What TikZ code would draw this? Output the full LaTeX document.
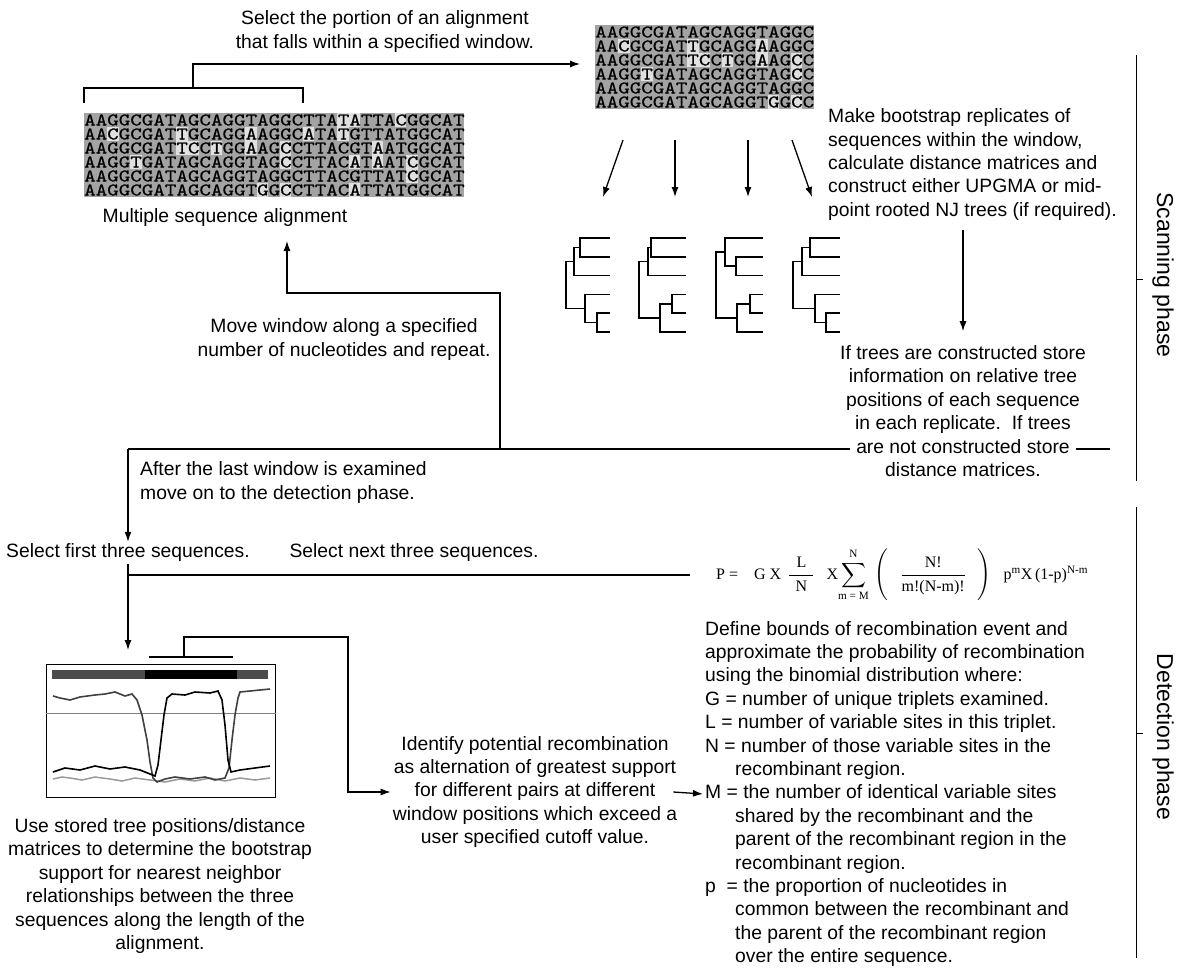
\documentclass[tikz,border=0pt]{standalone}
\usepackage{fontspec}
\usepackage{amsmath}
\setmainfont{Liberation Sans}
\newfontfamily\formfont{Liberation Serif}
\newfontfamily\seqfont[FakeStretch=1.22,FakeBold=0.5]{lmmono10-regular.otf}
\usetikzlibrary{arrows.meta}
\colorlet{seqbg}{black!36}
\colorlet{seqlight}{black!12}
\tikzset{
  txt/.style={font=\fontsize{19.3}{23.4}\selectfont, inner sep=2pt},
  arr/.style={-{Latex[length=10pt,width=7pt]}},
  link/.style={line width=1.3pt},
  branch/.style={line width=1.6pt},
  seqrow/.style={font={\seqfont\fontsize{18}{14}\selectfont}, anchor=base west, inner sep=0pt},
  phase/.style={font=\fontsize{23}{27}\selectfont, rotate=-90},
}
\begin{document}
\begin{tikzpicture}[x=1pt,y=-1pt]
\useasboundingbox (0,0) rectangle (1179,969);

% multiple sequence alignment
\fill[seqbg] (84,113) rectangle (463.5,197);
\foreach \c/\r in {3/2,9/2,15/2,20/2,9/3,10/3,12/3,15/3,18/3,26/3,5/4,18/4,24/4,26/4,29/4,29/5,16/6,18/6,24/6,23/1,23/2,28/1,24/1}
  \fill[seqlight] ({84+(\c-1)*11.5},{113+(\r-1)*14}) rectangle +(11.5,14);
\foreach \s [count=\r] in {AAGGCGATAGCAGGTAGGCTTATATTACGGCAT,AACGCGATTGCAGGAAGGCATATGTTATGGCAT,AAGGCGATTCCTGGAAGCCTTACGTAATGGCAT,AAGGTGATAGCAGGTAGCCTTACATAATCGCAT,AAGGCGATAGCAGGTAGGCTTACGTTATCGCAT,AAGGCGATAGCAGGTGGCCTTACATTATGGCAT}
  \node[seqrow] (msa\r) at (84,{125.5+(\r-1)*14}) {\s};
\node[txt] (msalabel) at (225,218) {Multiple sequence alignment};

% window
\fill[seqbg] (595,25) rectangle (813.5,109);
\foreach \c/\r in {3/2,9/2,15/2,9/3,10/3,12/3,15/3,18/3,5/4,18/4,16/6,18/6}
  \fill[seqlight] ({595+(\c-1)*11.5},{25+(\r-1)*14}) rectangle +(11.5,14);
\foreach \s [count=\r] in {AAGGCGATAGCAGGTAGGC,AACGCGATTGCAGGAAGGC,AAGGCGATTCCTGGAAGCC,AAGGTGATAGCAGGTAGCC,AAGGCGATAGCAGGTAGGC,AAGGCGATAGCAGGTGGCC}
  \node[seqrow] (win\r) at (595,{37.5+(\r-1)*14}) {\s};

\node[txt, align=center] (seltxt) at (385,31.5) {Select the portion of an alignment\\that falls within a specified window.};
\draw[link] (84,103) |- (303,88) -- (303,103);
\coordinate (brkM) at (193,88);
\coordinate (winIn) at (580,64);
\draw[link,arr] (brkM) |- (winIn);

% bootstrap arrows
\foreach \a/\b [count=\i] in {623/603,675/675,748/748,792/812}{
  \coordinate (bt\i) at (\a,140);
  \coordinate (bh\i) at (\b,197);
  \draw[link,arr] (bt\i) -- (bh\i);
}

% trees
\begin{scope}[shift={(566,238)}, branch]
  \draw (44,0) -| (14,18.8) -- (44,18.8);
  \draw (14,9.4) -| (8,37.6) -- (44,37.6);
  \draw (44,75.2) -| (31,94) -- (44,94);
  \draw (44,56.4) -| (19,84.6) -- (31,84.6);
  \draw (8,23.5) -| (0,70.5) -- (19,70.5);
\end{scope}
\begin{scope}[shift={(639,238)}, branch]
  \draw (47,0) -| (12,18.8) -- (47,18.8);
  \draw (12,9.4) -| (9,37.6) -- (47,37.6);
  \draw (47,56.4) -| (33,75.2) -- (47,75.2);
  \draw (33,65.8) -| (21,94) -- (47,94);
  \draw (9,23.5) -| (0,79.9) -- (21,79.9);
\end{scope}
\begin{scope}[shift={(716,238)}, branch]
  \draw (47,18.8) -| (20,37.6) -- (47,37.6);
  \draw (47,0) -| (9,28.2) -- (20,28.2);
  \draw (47,56.4) -| (34,75.2) -- (47,75.2);
  \draw (34,65.8) -| (21,94) -- (47,94);
  \draw (9,14.1) -| (0,79.9) -- (21,79.9);
\end{scope}
\begin{scope}[shift={(793,238)}, branch]
  \draw (47,0) -| (17,18.8) -- (47,18.8);
  \draw (17,9.4) -| (9,37.6) -- (47,37.6);
  \draw (47,75.2) -| (33,94) -- (47,94);
  \draw (47,56.4) -| (22,84.6) -- (33,84.6);
  \draw (9,23.5) -| (0,70.5) -- (22,70.5);
\end{scope}

\node[txt, align=left, anchor=west] (boot) at (826,164.5) {Make bootstrap replicates of\\sequences within the window,\\calculate distance matrices and\\construct either UPGMA or mid-\\point rooted NJ trees (if required).};
\node[txt, align=center] (store) at (963,411) {If trees are constructed store\\information on relative tree\\positions of each sequence\\in each replicate.\ \ If trees\\are not constructed store\\distance matrices.};
\draw[link,arr,shorten <=8pt,shorten >=12pt] (boot.south -| store.north) -- (store.north);

% loop back / on to detection
\node[txt, align=center] (move) at (344,339.5) {Move window along a specified\\number of nucleotides and repeat.};
\node[txt, align=left, anchor=west] (after) at (138,482.5) {After the last window is examined\\move on to the detection phase.};
\coordinate (storeR) at (1110,449);
\coordinate (moveJ) at (500,449);
\coordinate (detC) at (128,449);
\coordinate (msaTurn) at (287,293);
\coordinate (msaIn) at (287,241);
\draw[link] (storeR) -- ([xshift=113pt]store.center |- storeR);
\draw[link] ([xshift=-113pt]store.center |- storeR) -- (detC);
\draw[link,arr] (moveJ) |- (msaTurn) -- (msaIn);

% detection phase
\node[txt] (selfirst) at (128,553) {Select first three sequences.};
\node[txt] (selnext) at (414,553) {Select next three sequences.};
\draw[link,arr] (detC) -- (selfirst.north);
\coordinate (plotIn) at (128,650);
\draw[link,arr] (selfirst.south) -- (plotIn);

\node[font=\fontsize{16}{18}\selectfont\formfont, inner xsep=26pt, inner ysep=2pt, anchor=west] (formula) at (690,575)
  {P =\hspace{16pt}G X\hspace{7pt}$\dfrac{\makebox[24pt]{L}}{\text{N}}$\hspace{12pt}X$\displaystyle\sum_{\text{m = M}}^{\text{N}}$\hspace{6pt}$\Biggl(\hspace{12pt}\dfrac{\text{N!}}{\text{m!(N-m)!}}\hspace{12pt}\Biggr)$\hspace{12pt}p$^{\text{m}}$X\,(1-p)$^{\text{N-m}}$};
\draw[link] (formula.west) -- (selfirst.south |- formula.west);

% support plot
\node[draw, line width=1pt, minimum width=229pt, minimum height=133pt, inner sep=0pt] (supportbox) at (160.5,730.5) {};
\fill[black!70] (52,670) rectangle (145,679);
\fill[black] (145,670) rectangle (237,679);
\fill[black!70] (237,670) rectangle (268,679);
\draw[gray, line width=0.7pt] (supportbox.west |- 0,713) -- (supportbox.east |- 0,713);
\draw[black!40, line width=1.5pt] (53,779) -- (62,777) -- (70,778) -- (82,780) -- (95,777) -- (110,779) -- (122,781) -- (135,778) -- (150,780) -- (165,782) -- (180,779) -- (195,781) -- (210,778) -- (225,781) -- (240,778) -- (255,780) -- (270,778);
\draw[black!75, line width=1.6pt] (53,696) -- (60,698) -- (70,700) -- (80,697) -- (95,695) -- (105,694) -- (115,692) -- (125,696) -- (132,694) -- (137,700) -- (142,715) -- (147,740) -- (150,762) -- (153,778) -- (157,782) -- (165,779) -- (175,777) -- (190,779) -- (205,777) -- (215,780) -- (225,778) -- (229,768) -- (232,740) -- (235,715) -- (238,698) -- (240,692) -- (250,691) -- (260,690) -- (270,689);
\draw[black, line width=1.6pt] (53,772) -- (65,768) -- (80,770) -- (95,766) -- (110,769) -- (125,767) -- (140,770) -- (150,774) -- (155,776) -- (158,765) -- (161,740) -- (164,715) -- (167,698) -- (172,694) -- (185,695) -- (195,692) -- (210,693) -- (218,691) -- (222,700) -- (225,725) -- (228,760) -- (231,772) -- (240,770) -- (255,768) -- (270,766);
\draw[link] (149,657) -- (233,657);
\coordinate (pbrkM) at (184,657);
\coordinate (pcorner) at (348,637);

\node[txt] (usestored) at (160,886) [align=center] {Use stored tree positions/distance\\matrices to determine the bootstrap\\support for nearest neighbor\\relationships between the three\\sequences along the length of the\\alignment.};
\node[txt, align=center] (identify) at (535,792) {Identify potential recombination\\as alternation of greatest support\\for different pairs at different\\window positions which exceed a\\user specified cutoff value.};
\draw[link,arr] (pbrkM) |- (pcorner) |- (identify.west);

\node[txt, align=left, anchor=west] (define) at (703,794) {Define bounds of recombination event and\\approximate the probability of recombination\\using the binomial distribution where:\\G = number of unique triplets examined.\\L = number of variable sites in this triplet.\\N = number of those variable sites in the\\\hspace*{30pt}recombinant region.\\M = the number of identical variable sites\\\hspace*{30pt}shared by the recombinant and the\\\hspace*{30pt}parent of the recombinant region in the\\\hspace*{30pt}recombinant region.\\p\ \ = the proportion of nucleotides in\\\hspace*{30pt}common between the recombinant and\\\hspace*{30pt}the parent of the recombinant region\\\hspace*{30pt}over the entire sequence.};
\draw[link,arr] ([xshift=-6pt]identify.east) -- (define.west);

% phases
\coordinate (scanTop) at (1136,55);
\coordinate (scanBot) at (1136,481);
\coordinate (detTop) at (1136,507);
\coordinate (detBot) at (1136,958);
\draw[line width=1pt] (scanTop) -- (scanBot);
\draw[line width=1pt] (detTop) -- (detBot);
\draw[line width=1pt] (1136,279) -- +(7,0);
\draw[line width=1pt] (1136,733) -- +(7,0);
\node[phase] (scanlbl) at (1163,275) {Scanning phase};
\node[phase] (detlbl) at (1163,737) {Detection phase};
\end{tikzpicture}
\end{document}
